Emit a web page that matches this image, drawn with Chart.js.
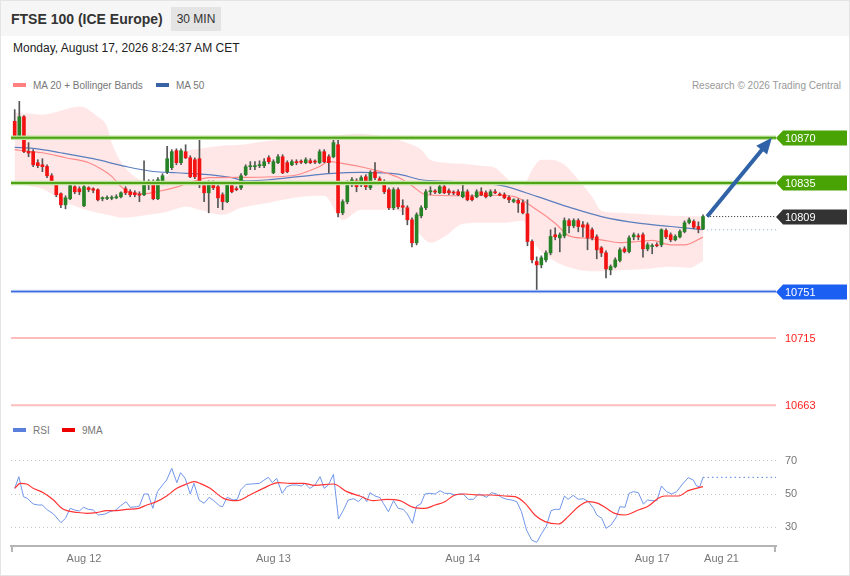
<!DOCTYPE html>
<html>
<head>
<meta charset="utf-8">
<script src="https://cdn.jsdelivr.net/npm/chart.js@4.4.1/dist/chart.umd.min.js"></script>
<style>
body{margin:0;width:850px;height:576px;position:relative;background:#fff;font-family:"Liberation Sans",Arial,sans-serif;overflow:hidden}
#frame{position:absolute;left:0;top:0;width:850px;height:576px;box-sizing:border-box;border:1px solid #e4e4e4;pointer-events:none}
#head{position:absolute;left:1px;top:1px;width:848px;height:35px;background:#f6f6f6}
#title{position:absolute;left:11px;top:11px;font-weight:bold;font-size:14px;color:#333}
#tf{position:absolute;left:171px;top:7px;width:50px;height:24px;line-height:25px;text-align:center;background:#e4e4e4;font-size:12px;color:#333}
#date{position:absolute;left:13px;top:41px;font-size:12px;color:#222}
.leg{position:absolute;font-size:10px;color:#777;line-height:12px;white-space:nowrap}
.sw{display:inline-block;width:13px;height:4px;vertical-align:middle;margin-right:7px;position:relative;top:-1px}
#credit{position:absolute;right:9px;top:80px;font-size:10px;color:#999;line-height:12px}
#price{position:absolute;left:0;top:95px}
#rsi{position:absolute;left:0;top:440px}
</style>
</head>
<body>
<div id="head"></div>
<div id="title">FTSE 100 (ICE Europe)</div>
<div id="tf">30 MIN</div>
<div id="date">Monday, August 17, 2026 8:24:37 AM CET</div>
<div class="leg" style="left:13px;top:80px"><span class="sw" style="background:#ff8080"></span>MA 20 + Bollinger Bands</div>
<div class="leg" style="left:156px;top:80px"><span class="sw" style="background:#3a62a6"></span>MA 50</div>
<div id="credit">Research © 2026 Trading Central</div>
<div class="leg" style="left:13px;top:425px"><span class="sw" style="background:#5b7fdc"></span>RSI</div>
<div class="leg" style="left:62px;top:425px"><span class="sw" style="background:#ee0000"></span>9MA</div>
<canvas id="price" width="850" height="330"></canvas>
<canvas id="rsi" width="850" height="135"></canvas>
<div id="frame"></div>
<script>
// 30 min candles, index 0 = first bar on the left
const opens = [10882.7,10870.8,10886.3,10859.4,10859.2,10850.7,10849.1,10847.8,10840.6,10835.2,
  10826.7,10818.1,10822.8,10832.1,10830.5,10817.4,10831.3,10830.5,10829.8,10822.8,
  10823,10823.2,10823.5,10824.3,10830.5,10828.2,10827.4,10825.9,10825.9,10833.6,
  10836,10822.8,10835.2,10843.7,10846.8,10860,10850.7,10859.2,10854.5,10853,
  10853.8,10832.9,10827.4,10835.2,10832.1,10825.9,10820.5,10832.9,10830.5,10831.3,
  10841.4,10847.6,10847.6,10848.4,10848.4,10854.5,10842.9,10850.7,10855.3,10850.7,
  10849.1,10851.5,10851.5,10850.7,10852.2,10851.5,10850.7,10859.2,10855.3,10855.3,
  10864.6,10811.9,10820.5,10833.6,10836.7,10833.6,10839.8,10831.3,10843.7,10838.3,
  10836,10829.8,10815.8,10829.8,10817.4,10815.8,10806.5,10788.7,10809.6,10815.8,
  10828.2,10828.2,10827.4,10832.1,10829,10827.4,10828.2,10824.3,10828.2,10824.3,
  10824.3,10828.2,10827.4,10825.1,10828.2,10825.9,10825.9,10823.8,10820.7,10821.5,
  10819.7,10811.1,10789.7,10774.2,10771.6,10775.5,10780.9,10794.9,10792.5,10794.1,
  10805.9,10801.9,10805.9,10802.6,10802.6,10798.8,10793.3,10784.8,10780.9,10767.8,
  10770.3,10775,10784,10781.9,10793.3,10793.6,10794.9,10784,10785.8,10787.1,
  10787.1,10798.2,10794.9,10791,10793.3,10797.4,10804.4,10805.2,10801.3,10799.3];
const highs = [10891.8,10898.2,10887.1,10866.2,10860.8,10853,10853.8,10849.1,10842.2,10835.9,
  10827.4,10825.1,10833.6,10832.9,10832.1,10832.9,10832.1,10831.3,10830.5,10824.3,
  10825.1,10825.1,10825.9,10828.2,10832.1,10829.8,10829,10828.2,10852.2,10837.5,
  10837.5,10839.1,10842.2,10863.3,10860.8,10861.5,10861.5,10864.6,10856.1,10854.5,
  10870.1,10834.4,10836.7,10836.7,10833.6,10827.4,10835.2,10834.4,10832.1,10842.2,
  10849.1,10851.5,10851.5,10852.2,10853.8,10856.1,10853,10856.9,10856.9,10852.2,
  10853,10853,10853,10854.5,10853.8,10853,10860.8,10860.8,10856.9,10870.1,
  10870.8,10822,10836.7,10839.1,10838.3,10840.6,10841.4,10844.5,10850.7,10839.8,
  10837.5,10831.3,10831.3,10831.3,10822,10817.4,10808,10811.9,10817.4,10829.8,
  10832.1,10829.8,10833.6,10833.6,10830.5,10829,10829.8,10833.6,10829.8,10825.9,
  10829.8,10831.3,10829,10829.8,10829.8,10827.4,10827.4,10825.1,10822.8,10822.8,
  10822,10822,10791,10777.8,10778.6,10782.5,10798.8,10800.3,10796.4,10808,
  10807.3,10807.3,10807.3,10805.2,10804.2,10800.3,10794.9,10785.8,10782.5,10771.6,
  10777.1,10784.8,10785.6,10794.1,10796.4,10795.7,10796.4,10788.7,10787.9,10788.7,
  10799.5,10799.5,10796.4,10794.9,10798.8,10805.7,10808,10806.5,10804.9,10810.4];
const lows = [10870.1,10870.1,10858.4,10855.3,10847.6,10846.8,10843.7,10839.1,10833.6,10824.3,
  10815.8,10815,10822,10826.7,10825.9,10816.6,10828.2,10827.4,10821.2,10821.2,
  10822,10822,10822.8,10823.5,10825.9,10824.3,10824.3,10820.5,10825.1,10829.8,
  10822,10822,10833.6,10842.2,10845.3,10849.1,10849.1,10853.8,10839.1,10838.3,
  10831.3,10820.5,10811.9,10829.8,10815.8,10814.3,10819.7,10827.4,10829,10829.8,
  10840.6,10845.3,10845.3,10846.8,10846.8,10849.9,10842.2,10849.9,10842.2,10842.9,
  10848.4,10849.1,10849.9,10849.9,10849.9,10849.9,10849.9,10850.7,10842.9,10854.5,
  10808.8,10810.4,10818.9,10832.1,10828.2,10832.1,10829.8,10829.8,10837.5,10834.4,
  10826.7,10814.3,10814.3,10815,10810.4,10802.6,10785.6,10787.1,10808,10814.3,
  10825.9,10826.7,10826.7,10826.7,10825.9,10825.9,10825.1,10823.5,10821.2,10821.2,
  10823.5,10825.1,10823.5,10824.3,10826.7,10825.1,10822.8,10819.7,10819.7,10812.2,
  10811.1,10786.4,10773.2,10750.9,10769.3,10773.9,10779.4,10791,10781.7,10792.5,
  10796.4,10800.3,10797.2,10793.3,10783.3,10791,10776.3,10778,10761.6,10763.9,
  10769.3,10773.9,10780.9,10780.9,10791,10791,10777.6,10782.5,10780.2,10785.6,
  10785.6,10791.8,10789.5,10790.2,10792.5,10796.4,10803.4,10799.5,10796.4,10798.8];
const closes = [10870.8,10886.3,10859.4,10858.2,10849.1,10848.4,10847.6,10840.6,10835.2,10825.9,
  10818.1,10823.5,10832.9,10828.2,10828.2,10832.1,10829.8,10829.4,10822,10823,
  10823.2,10823.5,10824.3,10827.4,10827.4,10825.9,10825.9,10825.5,10834.4,10835.2,
  10822.8,10837.5,10840.6,10853.8,10859.2,10850.7,10860,10854.5,10839.8,10839.8,
  10833.6,10827.4,10835.2,10831.3,10823.5,10820.5,10833.6,10828.2,10829.8,10840.6,
  10847.6,10848,10848.4,10849.1,10851.5,10851.5,10851.5,10855.3,10842.9,10843.7,
  10851.5,10850.7,10851.1,10853,10850.7,10851.2,10859.2,10851.5,10850.7,10866.2,
  10811.9,10820.5,10835.2,10837.5,10832.1,10839.1,10832.1,10842.9,10839.1,10836,
  10828.2,10815.8,10829.8,10816.6,10816.2,10806.5,10788.7,10810.4,10815.8,10828.2,
  10828.6,10828,10832.1,10827.4,10827.4,10827.2,10825.9,10828.2,10822,10822,
  10828.2,10825.9,10824.3,10828.2,10827.4,10825.6,10823.5,10822,10822,10819.4,
  10811.9,10789.7,10775.5,10771.6,10777.1,10780.9,10793.6,10793.3,10794.9,10805.9,
  10801.9,10805.9,10801.3,10800.8,10792.5,10792.5,10783.3,10780.9,10768.5,10770.3,
  10775.5,10783.3,10781.9,10792.5,10794.9,10793.3,10784,10787.1,10786.6,10786.4,
  10798.8,10793.3,10791,10793.6,10797.4,10804.2,10806.5,10800.8,10799.3,10809];

// moving averages, read at sample bars
const ma20Idx = [0,3,6,11,16,19,21,23,25,28,31,35,39,42,49,60,66,68,70,77,83,86,89,97,104,108,113,117,120,124,127,131,135,138,142,145,149];
const ma20Vals = [10860.8,10859.4,10858.4,10854.5,10850.7,10845.3,10840.1,10832.3,10827.7,10826.7,10828.4,10831.8,10836.7,10839.1,10839.4,10840.6,10847.8,10851.7,10850.7,10845.8,10839.4,10832.9,10825.9,10825.1,10825.5,10824.6,10814.3,10803.9,10794.1,10792.2,10791,10788.9,10789.7,10790.5,10787.1,10787.1,10793.1];
const ma50Idx = [0,4,10,17,24,30,35,42,47,50,55,62,68,75,83,88,94,101,106,113,120,127,135,142,149];
const ma50Vals = [10862.5,10861.8,10858.4,10853.8,10847.8,10843.9,10842.9,10841.4,10839.1,10836.7,10837.5,10840.1,10842.2,10843.2,10841.9,10837.5,10836.2,10834.9,10832.6,10824.6,10816.3,10809,10803.9,10801.3,10798.8];

// bollinger bands
const bandIdx = [0,3,6,10,14,18,20,21,23,26,29,33,35,37,40,45,49,55,62,67,71,75,82,86,88,90,93,97,101,104,106,108,110,112,114,116,119,122,125,127,131,138,142,146,149];
const bandUpper = [10889.4,10888.7,10887.9,10891,10894.1,10886.3,10878.6,10866.2,10851.5,10839.8,
  10836,10840.6,10853,10859.2,10861.5,10863.9,10864.6,10867.7,10869.3,10870.8,
  10872.4,10873.2,10869.3,10864.6,10860.8,10853,10850.7,10849.9,10848.4,10846.8,
  10840.6,10834.4,10832.9,10845.3,10853,10853,10849.1,10837.5,10824.3,10813.5,
  10811.9,10810.4,10809.6,10809.2,10809.2];
const bandLower = [10835.2,10832.9,10830.5,10822,10815.8,10811.9,10810.4,10809.6,10808,10808.8,
  10810.4,10812.7,10815,10816.6,10814.3,10810.4,10815.8,10819.7,10824.3,10825.1,
  10806.5,10814.3,10814.3,10805,10794.1,10788.7,10793.3,10803.4,10804.2,10804.2,
  10804.2,10805,10805.7,10791,10781.7,10776.3,10770.9,10767.8,10766.6,10766.6,
  10767.4,10768.9,10770.1,10769.3,10774.7];

// key levels: resistances, last, support, minor supports
const levels = [10870, 10835, 10809, 10751, 10715, 10663];
const arrowFrom = [149.9, 10809];
const arrowTo = [163.9, 10870];

// RSI panel
const rsiIdx = [0,0.9,1.9,2.7,4,5.1,6,6.9,8.4,10,11,12,13,14,14.9,15.9,17,18.1,19.6,20.6,
  21.9,22.9,24.1,25,26.4,27,28,28.9,29.9,30.9,32,32.9,34,35.1,35.9,36.9,38,38.8,39.9,41,
  42.1,43.1,44.4,45,46,47.3,48.2,48.9,50.1,51.3,53,53.8,54.9,55.8,56.7,57.9,58.9,60,61,62.1,
  62.8,63.9,65,66.1,67,67.9,69,70.1,71.1,72.2,73.4,74.4,75.5,76.2,76.9,78,79.1,79.8,80.9,82,
  83,84.1,85,86.1,87,87.9,88.8,89.9,91,92.1,93.1,94.2,95.3,96.4,97.1,98.2,99.3,100.4,101.1,102.2,
  103.2,104.3,105.4,106.5,107.6,108.7,109.7,110.8,111.9,113,114.1,115.1,116.1,117,118,119,119.8,120.9,122,123.1,
  124.2,125.3,126,127.1,128,129.1,130.3,131,132.1,133,133.9,135,136.1,137,137.9,139,140,141.1,142.2,143.3,
  144.4,145.8,146.9,147.6,148.3,149];
const rsiVals = [53.4,60.4,48.4,47.4,44,43.4,43.4,40.8,38,32.8,35.4,41.4,40.4,39.8,42,40.8,40.4,37.4,38,39.4,
  40.4,42.8,45.4,42,42.4,42.8,50,50,41.4,51.4,55.4,58.4,65.4,56.8,62.8,59.4,50,56.4,46.4,44.4,
  48,46,42.8,42.4,48,46.4,46.8,52.4,55.8,56,56.4,58,60,56.8,59.4,50.4,54.4,55.4,55.4,54.8,
  56.4,53.4,55.4,60.4,53.4,55.4,61.8,35,40,46.4,47.2,45.4,48.4,45.4,50.8,48.8,47.8,44.4,39.4,46,
  41.4,40.8,38,32.4,42.8,44,50,50.4,50,52,50.4,50.4,49.4,50,50,46.8,46.8,50,49.4,48,
  50.8,50,48,46.8,46.4,45.4,39.4,28.4,22.4,21,26.4,30.8,40,40.8,40.8,48.8,46.8,49.2,46.8,47.2,
  45.4,41.4,37.4,35.4,29.4,31.4,36.4,42.4,42,50.4,51.4,50.8,44,46.4,46,46,54.8,51.4,50,51.4,
  55.4,59.8,58.4,54.8,54.4,60];
const rsiMaIdx = [0,1.2,2.6,4,6.2,8.4,10.2,11.3,13.4,15.6,17.7,19.9,22.1,24.2,26.8,28.6,30.7,32.9,35.1,37.2,
  38.8,40.1,42.3,45.2,48.1,50.9,53.8,57.1,59.6,62.5,65,69,71.9,74.7,77.6,80.5,83.4,86.3,88.8,91,
  93.1,95.3,97.5,100.4,103.2,106.1,108.3,110.5,112.6,114.8,117.7,119.8,122,124.2,126.3,128.1,129.9,132.1,135,137.2,
  139.3,140.8,143.7,145.8,149];
const rsiMaVals = [53.4,56.4,56,53.4,50.8,46.4,41.4,40,39,38.4,38.8,40,40,40.8,41.4,43.4,45.4,48.8,53.4,56,
  57.4,56.4,53.4,47.4,46,49.4,53.4,56.8,56.4,56.4,55.2,56,51.4,48.8,46,46.8,46,42,41.4,43.4,
  45.4,49.4,50,49.4,49.4,48.8,48.4,44.4,37.4,33.4,32,36.4,42.4,45.4,44.4,41.4,38.4,37.4,40.4,42.8,
  47.4,48.8,48.8,52,54.4];
const rsiTicks = [30, 50, 70];

// x axis labels (bar index where each day starts)
const tickPos = [15, 56, 97, 138, 153];
const tickLabels = ['Aug 12', 'Aug 13', 'Aug 14', 'Aug 17', 'Aug 21'];

const xMin = -0.8, xMax = 164.8;
const FONT = '"Liberation Sans", Arial, sans-serif';

const pts = (xs, ys) => xs.map((x, k) => ({x, y: ys[k]}));
const hline = (v, from) => [{x: from, y: v}, {x: xMax, y: v}];
const last = opens.length - 1;

const tagColors = ['#4aa304', '#4aa304', '#333333', '#1b5ef2', null, null];

const overlay = {
    id: 'overlay',
    afterDatasetsDraw(chart) {
        const {ctx, chartArea, scales: {x, y}} = chart;
        ctx.save();
        // arrow
        const x0 = x.getPixelForValue(arrowFrom[0]), y0 = y.getPixelForValue(arrowFrom[1]);
        const x1 = x.getPixelForValue(arrowTo[0]), y1 = y.getPixelForValue(arrowTo[1]);
        const a = Math.atan2(y1 - y0, x1 - x0);
        const c = Math.cos(a), s = Math.sin(a);
        ctx.strokeStyle = ctx.fillStyle = '#2f62a6';
        ctx.lineWidth = 4;
        ctx.beginPath();
        ctx.moveTo(x0, y0);
        ctx.lineTo(x1 - 12 * c, y1 - 12 * s);
        ctx.stroke();
        ctx.beginPath();
        ctx.moveTo(x1, y1);
        ctx.lineTo(x1 - 16 * c + 7 * s, y1 - 16 * s - 7 * c);
        ctx.lineTo(x1 - 16 * c - 7 * s, y1 - 16 * s + 7 * c);
        ctx.closePath();
        ctx.fill();
        // level tags
        ctx.font = '11px ' + FONT;
        ctx.textBaseline = 'middle';
        levels.forEach((v, k) => {
            const py = Math.round(y.getPixelForValue(v));
            const left = chartArea.right;
            if (tagColors[k]) {
                ctx.fillStyle = tagColors[k];
                ctx.beginPath();
                ctx.moveTo(left, py);
                ctx.lineTo(left + 7, py - 7.5);
                ctx.lineTo(chart.width - 3, py - 7.5);
                ctx.lineTo(chart.width - 3, py + 7.5);
                ctx.lineTo(left + 7, py + 7.5);
                ctx.closePath();
                ctx.fill();
                ctx.fillStyle = '#fff';
            } else {
                ctx.fillStyle = '#ff1f1f';
            }
            ctx.fillText(String(v), left + 9, py + 0.5);
        });
        ctx.restore();
    }
};

const line = (data, color, width, extra) => Object.assign({
    type: 'line', data, borderColor: color, borderWidth: width,
    pointRadius: 0, fill: false, order: 4
}, extra || {});

new Chart(document.getElementById('price'), {
    type: 'line',
    data: {
        datasets: [
            line(hline(levels[0], xMin), '#4fa213', 2, {order: 0}),
            line(hline(levels[0], xMin), '#bde2a0', 4.5, {order: 0.5}),
            line(hline(levels[1], xMin), '#4fa213', 2, {order: 0}),
            line(hline(levels[1], xMin), '#bde2a0', 4.5, {order: 0.5}),
            line(hline(levels[3], xMin), '#3a6ae0', 1.3, {order: 0}),
            line(hline(levels[3], xMin), '#cbd9f6', 3.5, {order: 0.5}),
            line(hline(levels[4], xMin), '#ffbcbc', 2, {order: 0}),
            line(hline(levels[5], xMin), '#ffbcbc', 2, {order: 0}),
            line(hline(levels[2], last + 0.9), '#222', 1, {borderDash: [1, 2], order: 0}),
            line(hline(ma50Vals[ma50Vals.length - 1], last + 0.9), '#8ea3c9', 1, {borderDash: [1, 3], order: 0}),
            {
                type: 'bar', order: 1, grouped: false, barThickness: 3, minBarLength: 1,
                data: opens.map((o, i) => ({x: i, y: [o, closes[i]]})),
                backgroundColor: opens.map((o, i) => closes[i] >= o ? '#258225' : '#f21212')
            },
            {
                type: 'bar', order: 2, grouped: false, barThickness: 1,
                data: lows.map((l, i) => ({x: i, y: [l, highs[i]]})),
                backgroundColor: '#555'
            },
            line(pts(ma20Idx, ma20Vals), '#ff8a8a', 1.2, {cubicInterpolationMode: 'monotone'}),
            line(pts(ma50Idx, ma50Vals), '#5b7ebf', 1.2, {cubicInterpolationMode: 'monotone'}),
            line(pts(bandIdx, bandUpper), 'rgba(0,0,0,0)', 0,
                {cubicInterpolationMode: 'monotone', fill: '+1', backgroundColor: 'rgba(255,110,110,0.17)', order: 10}),
            line(pts(bandIdx, bandLower), 'rgba(0,0,0,0)', 0,
                {cubicInterpolationMode: 'monotone', order: 10})
        ]
    },
    options: {
        responsive: false,
        animation: false,
        events: [],
        layout: {padding: {left: 11, right: 74, top: 4, bottom: 3}},
        plugins: {legend: {display: false}, tooltip: {enabled: false}},
        scales: {
            x: {type: 'linear', min: xMin, max: xMax, offset: false, display: false},
            y: {min: 10650, max: 10900, display: false}
        }
    },
    plugins: [overlay]
});

const axisEnds = {
    id: 'axisEnds',
    afterDraw(chart) {
        const {ctx, chartArea} = chart;
        ctx.save();
        ctx.strokeStyle = '#b5b5b5';
        ctx.lineWidth = 2;
        [chartArea.left + 1, chartArea.right - 1].forEach(px => {
            ctx.beginPath();
            ctx.moveTo(px, chartArea.bottom);
            ctx.lineTo(px, chartArea.bottom + 6);
            ctx.stroke();
        });
        ctx.restore();
    }
};

new Chart(document.getElementById('rsi'), {
    type: 'line',
    data: {
        datasets: [
            line(pts(rsiIdx, rsiVals), '#7096ea', 1, {order: 2}),
            line(pts(rsiMaIdx, rsiMaVals), '#ff3434', 1.2, {cubicInterpolationMode: 'monotone', order: 1}),
            line(hline(rsiVals[rsiVals.length - 1], rsiIdx[rsiIdx.length - 1]), '#5b7fdc', 1, {borderDash: [1.5, 3], order: 1})
        ]
    },
    options: {
        responsive: false,
        animation: false,
        events: [],
        layout: {padding: {left: 11, right: 0, top: 0, bottom: 3.8}},
        plugins: {legend: {display: false}, tooltip: {enabled: false}},
        scales: {
            x: {
                type: 'linear', min: xMin, max: xMax, offset: false,
                afterBuildTicks: s => { s.ticks = tickPos.map(v => ({value: v})); },
                ticks: {autoSkip: false, maxRotation: 0, color: '#777', padding: 6,
                    font: {size: 11, family: FONT}, callback: (v, i) => tickLabels[i]},
                grid: {display: false, drawTicks: false},
                border: {display: true, color: '#b5b5b5', width: 2}
            },
            y: {
                position: 'right', min: 18.8, max: 82.4,
                afterBuildTicks: s => { s.ticks = rsiTicks.map(v => ({value: v})); },
                afterFit: s => { s.width = 74; s.paddingTop = 0; s.paddingBottom = 0; },
                ticks: {color: '#777', padding: 9, font: {size: 11, family: FONT}},
                grid: {color: '#c4c4c4', drawTicks: false},
                border: {display: false, dash: [1, 3]}
            }
        }
    },
    plugins: [axisEnds]
});
</script>
</body>
</html>
